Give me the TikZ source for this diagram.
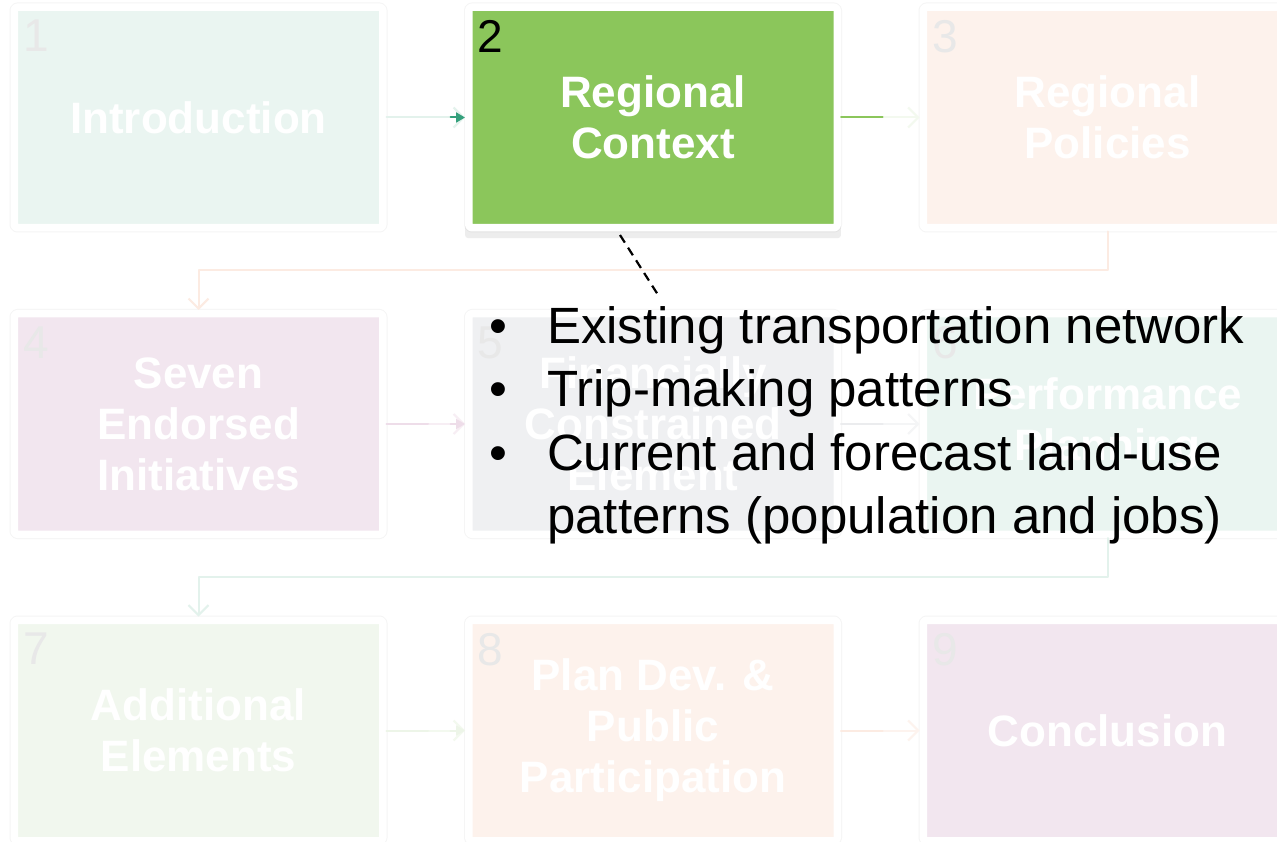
\documentclass[tikz,border=0pt]{standalone}
\usepackage{fontspec}
\setmainfont{Liberation Sans}
\usetikzlibrary{arrows.meta,shadows}

\definecolor{tealA}{HTML}{EAF5F1}
\definecolor{tealL}{HTML}{E3F2EC}
\definecolor{tealD}{HTML}{35A07C}
\definecolor{greenA}{HTML}{8BC65B}
\definecolor{greenB}{HTML}{F1F7EE}
\definecolor{greenL}{HTML}{EDF5E8}
\definecolor{greenF}{HTML}{F3F9EF}
\definecolor{peachA}{HTML}{FDF2EC}
\definecolor{peachL}{HTML}{FCEBE2}
\definecolor{peachF}{HTML}{FDF3EE}
\definecolor{pinkA}{HTML}{F2E6EF}
\definecolor{pinkL}{HTML}{EEDDE9}
\definecolor{pinkF}{HTML}{F7EEF4}
\definecolor{greyA}{HTML}{EFF0F2}
\definecolor{greyL}{HTML}{EBECEE}
\definecolor{greyF}{HTML}{F4F5F6}

\begin{document}
\begin{tikzpicture}[line cap=round,line join=round,x=1pt,y=-1pt,>={Straight Barb[length=10pt,width=20pt]},
	stage/.style={minimum width=368.5pt,minimum height=220.5pt,inner sep=0pt,draw=white,line width=7.5pt,rounded corners=3pt,
		align=center,text=white,font=\bfseries\fontsize{44}{51}\selectfont,preaction={draw=black!4,line width=9.5pt}},
	num/.style={anchor=north west,inner sep=0pt,xshift=12.5pt,yshift=-16.5pt,text=black!9,font=\fontsize{46}{46}\selectfont},
	link/.style={line width=2pt},
	tip/.style={-{Triangle[length=9pt,width=10pt]},shorten <=64pt}]
	\useasboundingbox (0,0) rectangle (1277,842);
	\clip (0,0) rectangle (1277,842);
	\fill[white] (0,0) rectangle (1277,842);
	% the nine stages
	\node[stage,fill=tealA,label={[num]north west:1}] (s1) at (198.5,117.5) {Introduction};
	\node[stage,fill=greenA,drop shadow={opacity=0.14,shadow xshift=0pt,shadow yshift=-8pt,shadow scale=1.02},label={[num,text=black]north west:2}] (s2) at (653,117.5) {Regional\\Context};
	\node[stage,fill=peachA,label={[num]north west:3}] (s3) at (1107.5,117.5) {Regional\\Policies};
	\node[stage,fill=pinkA,label={[num]north west:4}] (s4) at (198.5,424) {Seven\\Endorsed\\Initiatives};
	\node[stage,fill=greyA,label={[num]north west:5}] (s5) at (653,424) {Financially\\Constrained\\Element};
	\node[stage,fill=tealA,label={[num]north west:6}] (s6) at (1107.5,424) {Performance\\Planning};
	\node[stage,fill=greenB,label={[num]north west:7}] (s7) at (198.5,730.5) {Additional\\Elements};
	\node[stage,fill=peachA,label={[num]north west:8}] (s8) at (653,730.5) {Plan Dev. \&\\Public\\Participation};
	\node[stage,fill=pinkA,label={[num]north west:9}] (s9) at (1107.5,730.5) {Conclusion};
	% connectors
	\draw[link,tealL,->] (s1.east) -- (s2.west);
	\draw[link,tealD,tip] (s1.east) -- (s2.west);
	\draw[link,greenF,->] (s2.east) -- (s3.west);
	\draw[link,greenA,shorten >=37pt] (s2.east) -- (s3.west);
	\draw[link,peachL,->] (s3.south) -- ++(0,38.5) -| (s4.north);
	\draw[link,pinkF,->] (s4.east) -- (s5.west);
	\draw[link,pinkL,shorten >=37pt] (s4.east) -- (s5.west);
	\draw[link,pinkL,tip] (s4.east) -- (s5.west);
	\draw[link,greyF,->] (s5.east) -- (s6.west);
	\draw[link,greyL,shorten >=37pt] (s5.east) -- (s6.west);
	\draw[link,tealL,->] (s6.south) -- ++(0,38.5) -| (s7.north);
	\draw[link,greenF,->] (s7.east) -- (s8.west);
	\draw[link,greenL,shorten >=37pt] (s7.east) -- (s8.west);
	\draw[link,greenL,tip] (s7.east) -- (s8.west);
	\draw[link,peachF,->] (s8.east) -- (s9.west);
	\draw[link,peachL,shorten >=37pt] (s8.east) -- (s9.west);
	% callout
	\node[anchor=base west,inner sep=0pt,font=\fontsize{51}{63.5}\selectfont] (notes) at (489.1,343) {\begin{tabular}[t]{@{}l@{\hspace{40pt}}l@{}}
		\textbullet & Existing transportation network\\
		\textbullet & Trip-making patterns\\
		\textbullet & Current and forecast land-use\\
		& patterns (population and jobs)
	\end{tabular}};
	\coordinate (lead) at (660,298);
	\draw[line width=2.2pt,line cap=butt,dash pattern=on 9pt off 6pt] ([xshift=-33pt,yshift=-3.5pt]s2.south) -- (lead);
\end{tikzpicture}
\end{document}
